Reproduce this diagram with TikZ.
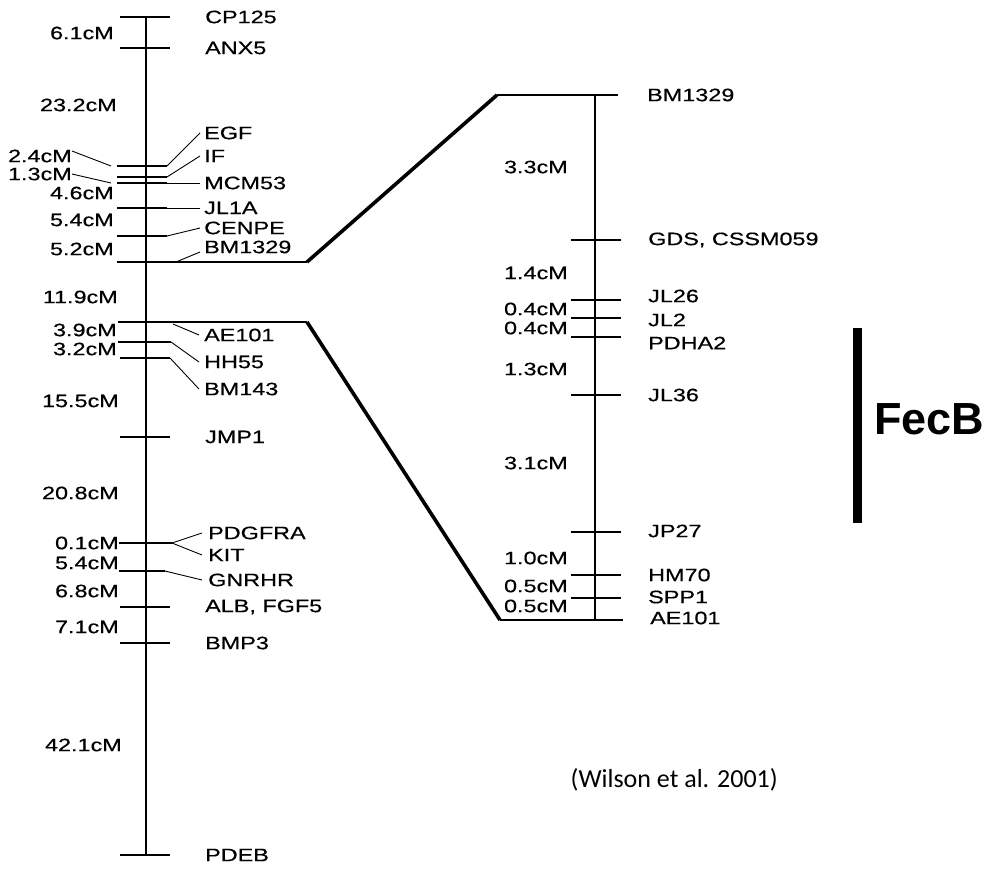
\documentclass[tikz,border=0pt]{standalone}
\usepackage{fontspec}
\setmainfont{Liberation Sans}[FakeStretch=1.3,FakeBold=0.4]
\newfontfamily\plainsans{Liberation Sans}
\newfontfamily\citefont{Carlito}
\usetikzlibrary{positioning}
\tikzset{
  chrom/.style={line width=2.4pt},
  mtick/.style={line width=2pt},
  leader/.style={line width=0.9pt},
  link/.style={line width=3.6pt},
  mlab/.style={anchor=west,inner sep=0pt},
  dlab/.style={anchor=east,inner sep=0pt},
  every node/.style={font=\fontsize{18}{18}\selectfont}
}

\begin{document}
\begin{tikzpicture}[x=1pt,y=-1pt]
\useasboundingbox (0,0) rectangle (990,870);
% left chromosome
\coordinate (Ltop) at (146,17);
\coordinate (Lbot) at (146,855);
\draw[chrom] (Ltop) -- (Lbot);
% markers with the label right beside the tick
\foreach \y/\nm/\txt in {17/cp/CP125, 48/anx/ANX5, 437/jmp/JMP1,
    607/alb/{ALB, FGF5}, 643/bmp/BMP3, 855/pdeb/PDEB}{
  \draw[mtick] (120,\y) -- (170,\y);
  \node[mlab] (\nm) at (205,\y) {\txt};
}
% markers with a leader to the label
\draw[mtick] (117,166) coordinate (egf-l) -- (167,166) coordinate (egf-r);
\draw[mtick] (117,177) -- (167,177) coordinate (if-r);
\draw[mtick] (117,183) coordinate (mcm-l) -- (167,183) coordinate (mcm-r);
\draw[mtick] (117,208) -- (167,208) coordinate (jl-r);
\draw[mtick] (117,236) -- (167,236) coordinate (cen-r);
\node[mlab] (egf) at (204,133) {EGF};
\node[mlab] (if) at (204,156) {IF};
\node[mlab] (mcm) at (204,183) {MCM53};
\node[mlab] (jlA) at (204,208) {JL1A};
\node[mlab] (cen) at (204,228) {CENPE};
\node[mlab] (bmL-lab) at (204,247) {BM1329};
\draw[leader] (egf-r) -- ([xshift=-4pt]egf.west);
\draw[leader] (if-r) -- ([xshift=-4pt]if.west);
\draw[leader] (mcm-r) -- ([xshift=-4pt]mcm.west);
\draw[leader] (jl-r) -- ([xshift=-4pt]jlA.west);
\draw[leader] (cen-r) -- ([xshift=-4pt]cen.west);
\coordinate (bm-r) at (176,262);
\draw[leader] (bm-r) -- ([xshift=-4pt,yshift=-5pt]bmL-lab.west);
\draw[mtick] (118,342) -- (171,342) coordinate (hh-r);
\draw[mtick] (120,358) -- (170,358) coordinate (bm143-r);
\coordinate (ae-r) at (173,324);
\node[mlab] (aeL-lab) at (204,335) {AE101};
\node[mlab] (hh) at (204,362) {HH55};
\node[mlab] (bm143) at (204,389) {BM143};
\draw[leader] (ae-r) -- ([xshift=-5pt]aeL-lab.west);
\draw[leader] (hh-r) -- ([xshift=-5pt]hh.west);
\draw[leader] (bm143-r) -- ([xshift=-5pt]bm143.west);
\draw[mtick] (119,543) -- (172,543) coordinate (pd-r);
\draw[mtick] (119,571) -- (165,571) coordinate (gn-r);
\node[mlab] (pdg) at (208,533) {PDGFRA};
\node[mlab] (kit) at (208,555) {KIT};
\node[mlab] (gn) at (208,580) {GNRHR};
\draw[leader] (pd-r) -- ([xshift=-6pt]pdg.west);
\draw[leader] (pd-r) -- ([xshift=-6pt]kit.west);
\draw[leader] (gn-r) -- ([xshift=-6pt]gn.west);
% distances, left
\foreach \y/\x/\txt [count=\i] in {33/114/6.1, 105/117/23.2, 156/72/2.4,
    174/72/1.3, 193/114/4.6, 220/114/5.4, 249/114/5.2, 297/118/11.9,
    330/117/3.9, 349/117/3.2, 401/119/15.5, 493/119/20.8, 543/119/0.1,
    563/119/5.4, 591/119/6.8, 627/119/7.1, 745/122/42.1}
  \node[dlab] (ld\i) at (\x,\y) {\txt cM};
\draw[leader] ([yshift=5pt]ld3.east) -- ([xshift=-6pt]egf-l);
\draw[leader] (ld4.east) -- ([xshift=-6pt]mcm-l);

% the two links
\coordinate (bmL) at (307,262);
\coordinate (bmR) at (497,95);
\coordinate (aeL) at (307,322);
\coordinate (aeR) at (500,620);
\draw[mtick] (117,262) -- (bmL);
\draw[mtick] (118,322) -- (aeL);
\draw[link] (bmL) -- (bmR);
\draw[link] (aeL) -- (aeR);

% right chromosome
\coordinate (Rtop) at (595,95);
\coordinate (Rbot) at (595,620);
\draw[chrom] (Rtop) -- (Rbot);
\draw[mtick] (bmR) -- (618,95);
\draw[mtick] (aeR) -- (623,620);
\node[mlab] (bmR-lab) at (647,95) {BM1329};
\node[mlab] (aeR-lab) at (650,618) {AE101};
\foreach \y/\ly/\nm/\txt in {240/240/gds/{GDS, CSSM059}, 300/296/jl26/JL26,
    318/320/jltwo/JL2, 337/343/pdha/PDHA2, 395/395/jl36/JL36,
    532/531/jp/JP27, 575/575/hm/HM70, 598/597/spp/SPP1}{
  \draw[mtick] (571,\y) -- (621,\y);
  \node[mlab] (\nm) at (648,\ly) {\txt};
}
% distances, right
\foreach \y/\txt [count=\i] in {167/3.3, 273/1.4, 309/0.4, 328/0.4,
    369/1.3, 463/3.1, 558/1.0, 586/0.5, 606/0.5}
  \node[dlab] (rd\i) at (568,\y) {\txt cM};

% FecB region
\coordinate (fecT) at (857,328);
\coordinate (fecB) at (857,523);
\draw[line width=9pt] (fecT) -- (fecB);
\node[anchor=west,inner sep=0pt,font=\plainsans\bfseries\fontsize{45}{45}\selectfont]
  (fec) at (874,419) {FecB};
\node[anchor=east,inner sep=0pt,font=\citefont\fontsize{26}{26}\selectfont]
  (cite) at (778,780) {(Wilson et al. 2001)};
\end{tikzpicture}
\end{document}
